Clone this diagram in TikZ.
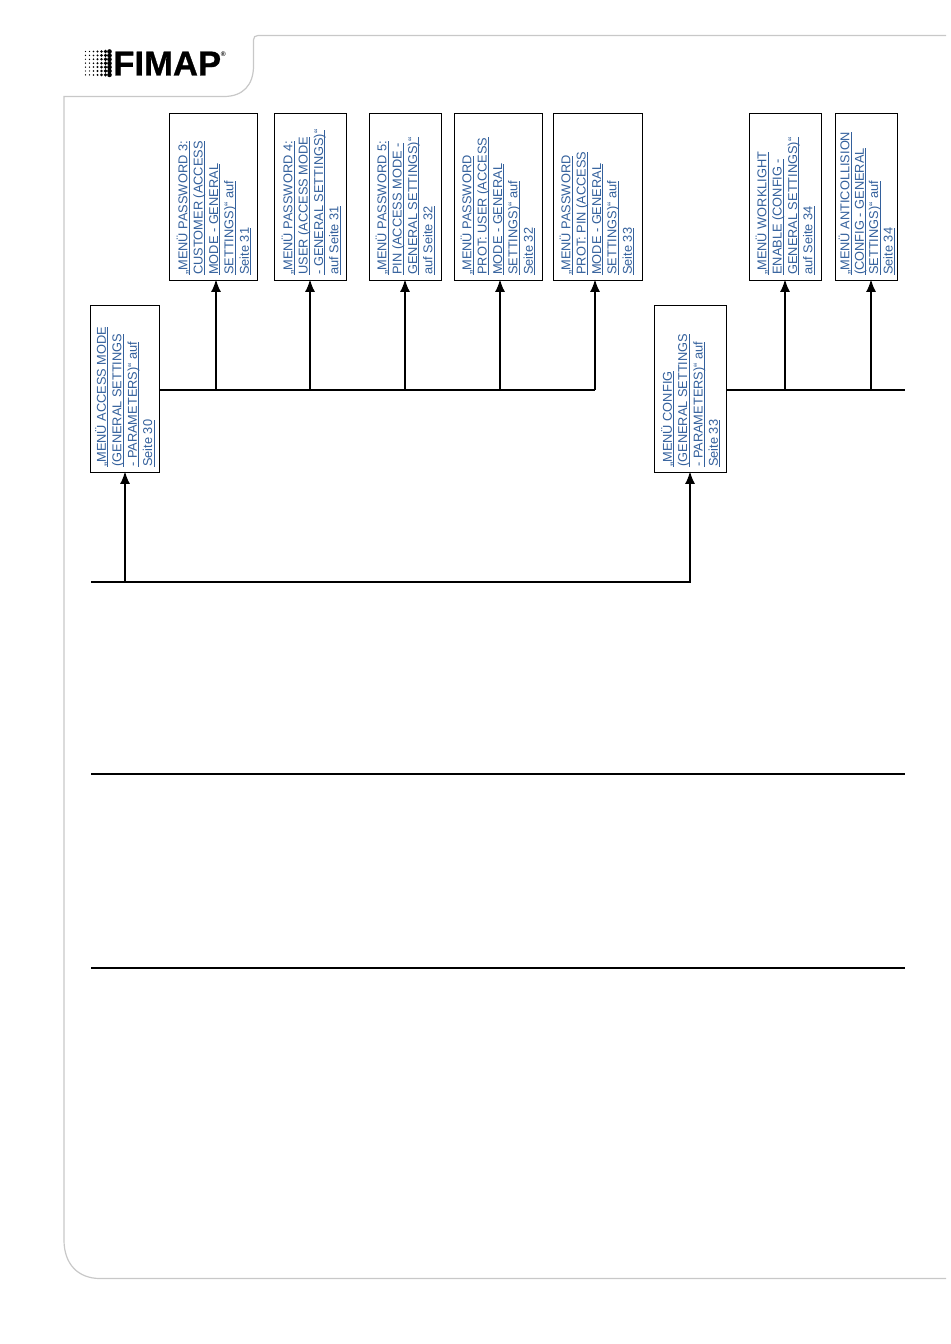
\documentclass[tikz,border=0pt]{standalone}
\usepackage{fontspec}
\setmainfont{Liberation Sans}
\newfontfamily\logofont[FakeBold=0.8]{Liberation Sans Bold}
\usetikzlibrary{arrows.meta}
\definecolor{linkblue}{HTML}{33609C}
\definecolor{framegray}{HTML}{C8C8C8}
\newcommand{\ulin}[1]{\setbox0\hbox{#1}\rlap{\rule[-1.5pt]{\wd0}{0.45pt}}\rule{0pt}{8pt}\box0}
\tikzset{
  x=0.75pt,y=-0.75pt,
  menubox/.style={draw=black,line width=0.7pt,inner sep=0pt,outer sep=0pt,fill=white},
  menutext/.style={rotate=90,anchor=north west,inner sep=0pt,align=left,text=linkblue,
    font=\fontsize{9.6pt}{11.55pt}\selectfont},
  busline/.style={draw=black,line width=1.45pt},
  arrowline/.style={busline,shorten >=-0.8pt,-{Latex[length=9.5pt,width=7.5pt]}},
  frameline/.style={draw=framegray,line width=0.9pt}
}
\begin{document}
\begin{tikzpicture}
\useasboundingbox (0,0) rectangle (950,1344);
\fill[white] (0,0) rectangle (950,1344);
% page frame
\draw[frameline] (946,35.5) -- (258,35.5) .. controls (255,35.5) and (253.5,37) .. (253.5,40)
  -- (253.5,66) .. controls (253.5,85) and (243,96.5) .. (224,96.5) -- (64,96.5)
  -- (64,1240) .. controls (64,1264) and (78,1278.5) .. (100,1278.5) -- (946,1278.5);
% logo
\foreach \c in {0,...,6}{\foreach \r in {0,...,6}{
  \pgfmathsetmacro{\rad}{0.7+0.045*\c*\c}
  \fill[black] ({85.5+4*\c},{51.5+3.9*\r}) circle ({\rad});
}}
\node (logotext) [anchor=base west,inner sep=0pt,font=\fontsize{26pt}{26pt}\logofont] at (113,75.5) {FIMAP};
\node (logoreg) [anchor=base west,inner sep=0pt,font=\fontsize{5pt}{5pt}\selectfont\bfseries] at (220.5,57) {®};
% boxes
\node (b1) [menubox,minimum width=66pt,minimum height=125.25pt] at (213.3,196.8) {};
\node (b2) [menubox,minimum width=54pt,minimum height=125.25pt] at (310.3,196.8) {};
\node (b3) [menubox,minimum width=54pt,minimum height=125.25pt] at (405.3,196.8) {};
\node (b4) [menubox,minimum width=66pt,minimum height=125.25pt] at (498.3,196.8) {};
\node (b5) [menubox,minimum width=66.75pt,minimum height=125.25pt] at (597.8,196.8) {};
\node (b6) [menubox,minimum width=54pt,minimum height=125.25pt] at (785.3,196.8) {};
\node (b7) [menubox,minimum width=46.5pt,minimum height=125.25pt] at (866.3,196.8) {};
\node (access) [menubox,minimum width=51.75pt,minimum height=125.25pt] at (124.8,388.8) {};
\node (config) [menubox,minimum width=54pt,minimum height=125.25pt] at (690.3,388.8) {};
% labels
\node (t1) [menutext] at (176.3,275) {\ulin{„MENÜ PASSWORD 3:}\\\ulin{CUSTOMER (ACCESS}\\\ulin{MODE - GENERAL}\\\ulin{SETTINGS)“ auf}\\\ulin{Seite 31}};
\node (t2) [menutext] at (281.3,275) {\ulin{„MENÜ PASSWORD 4:}\\\ulin{USER (ACCESS MODE}\\\ulin{- GENERAL SETTINGS)“}\\\ulin{auf Seite 31}};
\node (t3) [menutext] at (375.3,275) {\ulin{„MENÜ PASSWORD 5:}\\\ulin{PIN (ACCESS MODE -}\\\ulin{GENERAL SETTINGS)“}\\\ulin{auf Seite 32}};
\node (t4) [menutext] at (460.3,275) {\ulin{„MENÜ PASSWORD}\\\ulin{PROT: USER (ACCESS}\\\ulin{MODE - GENERAL}\\\ulin{SETTINGS)“ auf}\\\ulin{Seite 32}};
\node (t5) [menutext] at (559.3,275) {\ulin{„MENÜ PASSWORD}\\\ulin{PROT: PIN (ACCESS}\\\ulin{MODE - GENERAL}\\\ulin{SETTINGS)“ auf}\\\ulin{Seite 33}};
\node (t6) [menutext] at (755.3,275) {\ulin{„MENÜ WORKLIGHT}\\\ulin{ENABLE (CONFIG -}\\\ulin{GENERAL SETTINGS)“}\\\ulin{auf Seite 34}};
\node (t7) [menutext,font=\fontsize{9.6pt}{10.85pt}\selectfont] at (838.3,275) {\ulin{„MENÜ ANTICOLLISION}\\\ulin{(CONFIG - GENERAL}\\\ulin{SETTINGS)“ auf}\\\ulin{Seite 34}};
\node (t8) [menutext] at (95,467) {\ulin{„MENÜ ACCESS MODE}\\\ulin{(GENERAL SETTINGS}\\\ulin{- PARAMETERS)“ auf}\\\ulin{Seite 30}};
\node (t9) [menutext] at (660.8,467) {\ulin{„MENÜ CONFIG}\\\ulin{(GENERAL SETTINGS}\\\ulin{- PARAMETERS)“ auf}\\\ulin{Seite 33}};
% junctions
\coordinate (j1) at (216,390);
\coordinate (j2) at (310,390);
\coordinate (j3) at (405,390);
\coordinate (j4) at (500,390);
\coordinate (j5) at (595,390);
\coordinate (j6) at (785,390);
\coordinate (j7) at (871,390);
\coordinate (jend) at (905,390);
\coordinate (ja) at (125,582);
\coordinate (jc) at (690,582);
\coordinate (bstart) at (91,582);
\coordinate (l1a) at (91,774);
\coordinate (l1b) at (905,774);
\coordinate (l2a) at (91,968);
\coordinate (l2b) at (905,968);
% connectors
\draw[busline] (j1 -| access.east) -- (j5);
\draw[busline] (j6 -| config.east) -- (jend);
\foreach \j/\b in {j1/b1,j2/b2,j3/b3,j4/b4,j5/b5,j6/b6,j7/b7}{
  \draw[arrowline] (\j) -- (\j |- \b.south);
}
\draw[arrowline] (bstart) -- (jc) -- (jc |- config.south);
\draw[arrowline] (ja) -- (ja |- access.south);
\draw[busline] (l1a) -- (l1b);
\draw[busline] (l2a) -- (l2b);
\end{tikzpicture}
\end{document}
